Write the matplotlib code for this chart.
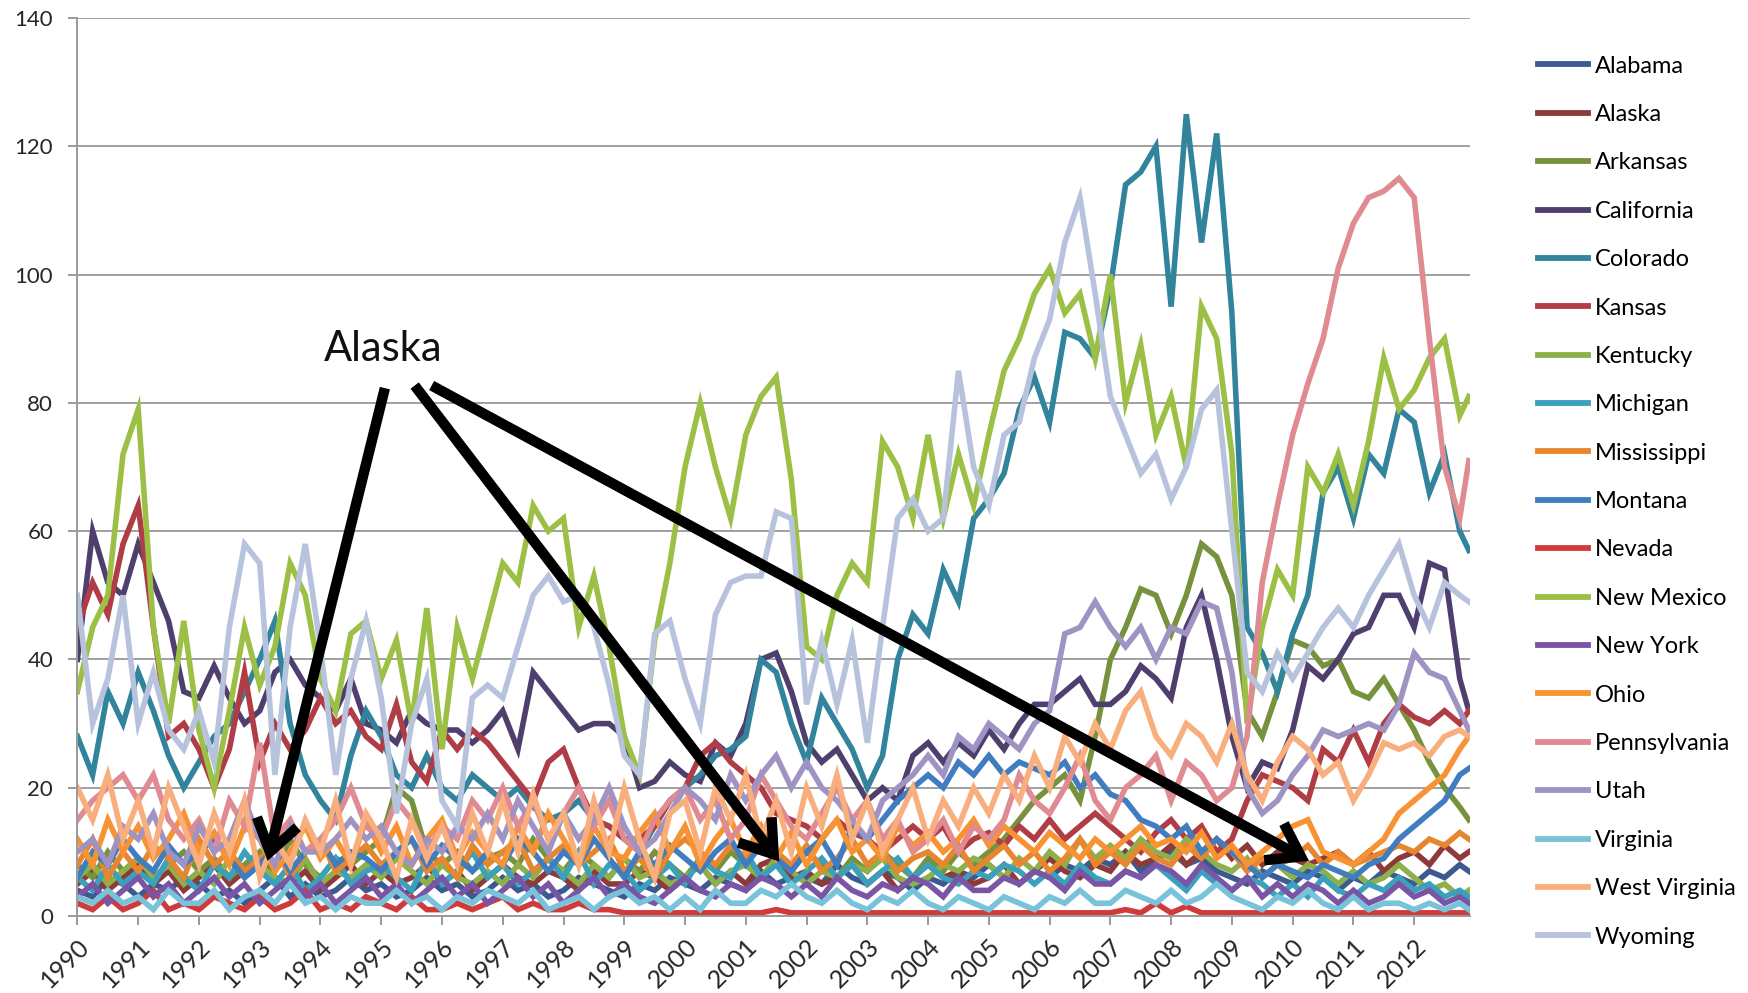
import numpy as np
import matplotlib
matplotlib.use("Agg")
import matplotlib.pyplot as plt

plt.rcParams['font.family'] = ['Lato', 'DejaVu Sans']

# ---------------- data (quarterly readings, 1990.00 ... 2012.75, plus end point) ----------------
dates = np.append(1990 + 0.25 * np.arange(92), 2012.9)

alabama = [4, 3, 6, 5, 3, 5, 4, 6, 5, 3, 4, 2, 4, 6, 3, 5, 3, 4, 6, 4, 5, 3, 4, 6,
           4, 5, 3, 4, 6, 4, 5, 3, 4, 6, 5, 4, 3, 5, 4, 6, 5, 4, 6, 5, 4, 7, 5, 6,
           6, 5, 8, 6, 5, 7, 6, 4, 6, 5, 7, 6, 8, 6, 5, 7, 6, 8, 7, 9, 8, 10, 7, 9,
           10, 8, 9, 7, 6, 5, 7, 6, 5, 7, 6, 4, 6, 5, 7, 6, 5, 7, 6, 8, 7]
alaska = [5, 7, 4, 6, 8, 5, 7, 4, 6, 8, 5, 7, 9, 6, 5, 7, 4, 6, 8, 5, 7, 5, 6, 8,
          5, 7, 4, 6, 8, 6, 5, 7, 6, 4, 7, 5, 5, 7, 6, 4, 6, 8, 5, 7, 5, 8, 9, 6,
          7, 5, 6, 8, 5, 7, 4, 6, 8, 6, 7, 5, 6, 8, 5, 7, 9, 7, 6, 8, 7, 10, 8, 9,
          11, 8, 10, 12, 9, 11, 8, 10, 9, 8, 9, 10, 8, 10, 7, 9, 10, 8, 11, 9, 10]
arkansas = [8, 6, 10, 7, 9, 6, 8, 10, 7, 9, 6, 8, 10, 7, 12, 8, 6, 9, 8, 10, 12, 20, 18, 10,
            8, 10, 7, 9, 10, 8, 12, 9, 7, 10, 8, 6, 9, 7, 10, 8, 6, 9, 7, 10, 8, 6, 9, 7,
            10, 8, 6, 9, 7, 10, 8, 6, 9, 7, 10, 8, 10, 12, 15, 18, 20, 22, 18, 28, 40, 45, 51, 50,
            44, 50, 58, 56, 50, 32, 28, 35, 43, 42, 39, 40, 35, 34, 37, 33, 29, 24, 20, 17, 15]
california = [40, 60, 52, 50, 58, 52, 46, 35, 34, 39, 34, 30, 32, 38, 40, 36, 34, 32, 37, 30,
              29, 27, 32, 30, 29, 29, 27, 29, 32, 26, 38, 35, 32, 29, 30, 30, 28, 20, 21, 24,
              22, 21, 27, 25, 30, 40, 41, 35, 27, 24, 26, 22, 18, 20, 18, 25, 27, 24, 27, 25,
              29, 26, 30, 33, 33, 35, 37, 33, 33, 35, 39, 37, 34, 45, 50, 40, 28, 20, 24, 23,
              29, 39, 37, 40, 44, 45, 50, 50, 45, 55, 54, 37, 32]
colorado = [28, 22, 35, 30, 38, 32, 25, 20, 24, 28, 30, 35, 40, 46, 30, 22, 18, 15, 25, 32,
            28, 22, 20, 25, 20, 18, 22, 20, 18, 20, 17, 15, 16, 18, 15, 14, 12, 10, 14, 18,
            20, 22, 25, 26, 28, 40, 38, 30, 24, 34, 30, 26, 20, 25, 40, 47, 44, 54, 49, 62,
            65, 69, 79, 84, 77, 91, 90, 87, 98, 114, 116, 120, 95, 125, 105, 122, 94, 45, 41, 35,
            44, 50, 66, 70, 62, 72, 69, 79, 77, 66, 72, 60, 57]
kansas = [45, 52, 47, 58, 64, 45, 28, 30, 26, 20, 26, 38, 24, 30, 26, 29, 34, 30, 32, 28,
          26, 33, 24, 21, 29, 26, 29, 27, 24, 21, 18, 24, 26, 20, 15, 14, 12, 12, 14, 18,
          20, 25, 27, 24, 22, 20, 16, 15, 14, 12, 15, 13, 12, 10, 12, 14, 12, 14, 10, 12,
          13, 11, 14, 12, 15, 12, 14, 16, 14, 12, 10, 13, 15, 12, 14, 10, 12, 18, 22, 21,
          20, 18, 26, 24, 29, 24, 30, 33, 31, 30, 32, 30, 32]
kentucky = [6, 8, 5, 7, 9, 6, 8, 5, 7, 5, 9, 6, 8, 6, 5, 9, 5, 7, 6, 8, 6, 9, 7, 5,
            8, 6, 5, 7, 5, 8, 6, 9, 7, 5, 8, 6, 9, 6, 7, 5, 6, 8, 5, 7, 8, 6, 9, 7,
            5, 7, 6, 8, 7, 9, 6, 5, 6, 8, 7, 9, 8, 6, 9, 7, 10, 8, 12, 9, 11, 9, 12, 10,
            9, 12, 10, 8, 7, 9, 6, 8, 6, 8, 7, 5, 7, 5, 6, 8, 6, 4, 5, 3, 4]
michigan = [6, 4, 8, 5, 7, 5, 9, 6, 4, 8, 6, 10, 7, 5, 8, 4, 6, 9, 5, 7, 8, 6, 4, 9,
            5, 7, 10, 6, 8, 5, 7, 9, 6, 10, 5, 8, 7, 4, 6, 8, 5, 9, 7, 6, 10, 6, 8, 5,
            7, 9, 6, 8, 5, 7, 9, 6, 8, 6, 5, 7, 6, 8, 7, 5, 7, 5, 8, 6, 5, 7, 6, 8,
            6, 4, 7, 5, 4, 6, 5, 3, 5, 3, 6, 4, 3, 5, 4, 6, 4, 5, 3, 4, 3]
mississippi = [8, 12, 6, 10, 7, 11, 9, 6, 12, 8, 10, 7, 9, 11, 6, 10, 12, 7, 9, 11, 8, 10, 12, 7,
               9, 6, 11, 8, 10, 12, 7, 9, 11, 8, 10, 12, 7, 9, 6, 10, 12, 10, 8, 11, 9, 12, 10, 8,
               11, 7, 9, 12, 8, 10, 7, 9, 10, 8, 11, 7, 9, 11, 8, 10, 7, 9, 12, 8, 10, 8, 11, 9,
               8, 11, 9, 12, 10, 7, 9, 8, 9, 11, 8, 10, 8, 9, 10, 11, 10, 12, 11, 13, 12]
montana = [6, 10, 8, 12, 9, 7, 11, 8, 10, 12, 9, 6, 8, 11, 7, 10, 12, 8, 10, 9, 7, 10, 12, 8,
           11, 9, 7, 10, 8, 12, 10, 7, 10, 8, 12, 9, 6, 10, 8, 11, 9, 7, 10, 12, 8, 11, 9, 7,
           10, 12, 8, 14, 12, 15, 18, 20, 22, 20, 24, 22, 25, 22, 24, 23, 22, 24, 20, 22, 19, 18, 15, 14,
           12, 14, 10, 12, 10, 8, 6, 8, 7, 6, 8, 7, 6, 8, 9, 12, 14, 16, 18, 22, 23]
nevada = [2, 1, 3, 1, 2, 4, 1, 2, 1, 3, 2, 1, 3, 1, 2, 4, 1, 2, 1, 3, 2, 1, 3, 1,
          1, 2, 1, 2, 3, 1, 2, 1, 1, 2, 1, 1, 0.5, 0.5, 0.5, 0.5, 0.5, 0.5, 0.5, 0.5, 0.5, 0.5, 1, 0.5,
          0.5, 0.5, 0.5, 0.5, 0.5, 0.5, 0.5, 0.5, 0.5, 0.5, 0.5, 0.5, 0.5, 0.5, 0.5, 0.5, 0.5, 0.5, 0.5, 0.5,
          0.5, 1, 0.5, 2, 0.5, 1.5, 0.5, 0.5, 0.5, 0.5, 0.5, 0.5, 0.5, 0.5, 0.5, 0.5, 0.5, 0.5, 0.5, 0.5, 0.5,
          0.5, 0.5, 0.5, 0.5]
new_mexico = [35, 45, 50, 72, 79, 45, 30, 46, 29, 20, 32, 45, 36, 42, 55, 50, 37, 32, 44, 46,
              37, 43, 30, 48, 26, 45, 37, 46, 55, 52, 64, 60, 62, 45, 53, 42, 28, 22, 43, 55,
              70, 80, 70, 62, 75, 81, 84, 68, 42, 40, 50, 55, 52, 74, 70, 62, 75, 62, 72, 64,
              75, 85, 90, 97, 101, 94, 97, 87, 100, 80, 89, 75, 81, 70, 95, 90, 72, 30, 45, 54,
              50, 70, 66, 72, 64, 74, 87, 79, 82, 87, 90, 78, 81]
new_york = [3, 5, 2, 4, 6, 3, 5, 2, 4, 6, 3, 5, 2, 4, 6, 3, 5, 2, 4, 6, 3, 5, 2, 4,
            6, 3, 5, 2, 4, 6, 3, 5, 2, 4, 6, 3, 5, 3, 2, 4, 6, 4, 3, 5, 4, 6, 5, 3,
            5, 3, 6, 4, 3, 5, 4, 6, 5, 3, 6, 4, 4, 6, 5, 7, 6, 4, 7, 5, 5, 7, 6, 8,
            7, 5, 8, 6, 4, 6, 3, 5, 3, 5, 4, 2, 4, 2, 3, 5, 3, 4, 2, 3, 2]
ohio = [12, 8, 15, 10, 14, 9, 12, 16, 10, 13, 8, 14, 12, 7, 10, 14, 9, 12, 8, 15, 10, 14, 8, 12,
        15, 9, 13, 10, 8, 14, 10, 16, 12, 8, 14, 10, 9, 13, 16, 10, 14, 8, 12, 15, 10, 14, 9, 13,
        8, 12, 15, 10, 12, 9, 14, 11, 13, 10, 12, 15, 11, 14, 12, 10, 13, 11, 9, 12, 10, 12, 14, 11,
        12, 10, 13, 9, 11, 8, 10, 12, 14, 15, 10, 9, 8, 10, 12, 16, 18, 20, 22, 26, 28]
pennsylvania = [15, 18, 20, 22, 18, 22, 15, 12, 15, 10, 18, 14, 27, 12, 15, 10, 12, 15, 20, 14,
                12, 18, 15, 10, 14, 12, 18, 15, 20, 14, 18, 12, 16, 20, 14, 18, 12, 10, 15, 18,
                20, 15, 18, 12, 15, 22, 18, 14, 12, 16, 20, 15, 18, 12, 15, 10, 12, 15, 10, 14,
                12, 15, 22, 18, 16, 20, 25, 18, 15, 20, 22, 25, 18, 24, 22, 18, 20, 28, 52, 64,
                75, 83, 90, 101, 108, 112, 113, 115, 112, 90, 70, 62, 71]
utah = [10, 12, 8, 14, 12, 16, 10, 8, 14, 10, 12, 18, 12, 8, 14, 10, 10, 12, 15, 12,
        14, 10, 8, 12, 10, 14, 12, 16, 12, 18, 14, 10, 16, 12, 15, 20, 14, 10, 12, 16,
        20, 18, 15, 22, 18, 22, 25, 20, 24, 20, 18, 15, 12, 18, 20, 22, 25, 22, 28, 26,
        30, 28, 26, 30, 32, 44, 45, 49, 45, 42, 45, 40, 45, 44, 49, 48, 38, 20, 16, 18,
        22, 25, 29, 28, 29, 30, 29, 33, 41, 38, 37, 32, 29]
virginia = [3, 2, 4, 2, 3, 1, 4, 2, 2, 4, 1, 3, 4, 2, 5, 2, 3, 1, 3, 2, 2, 4, 2, 3,
            1, 3, 2, 4, 3, 2, 4, 1, 2, 3, 1, 3, 4, 2, 3, 1, 3, 1, 4, 2, 2, 4, 3, 5,
            3, 2, 4, 2, 1, 3, 2, 4, 2, 1, 3, 2, 1, 3, 2, 1, 3, 2, 4, 2, 2, 4, 3, 2,
            4, 2, 3, 5, 3, 2, 1, 3, 2, 4, 2, 1, 3, 1, 2, 2, 1, 2, 1, 2, 1]
west_virginia = [20, 15, 22, 12, 18, 10, 20, 14, 8, 16, 10, 18, 6, 12, 8, 15, 10, 18, 8, 16,
                 12, 6, 15, 9, 14, 8, 16, 10, 18, 10, 19, 12, 16, 8, 18, 10, 20, 12, 6, 16,
                 18, 10, 20, 15, 22, 12, 18, 10, 20, 14, 22, 12, 18, 10, 15, 20, 12, 18, 14, 20,
                 16, 22, 18, 25, 20, 28, 24, 30, 26, 32, 35, 28, 25, 30, 28, 24, 30, 22, 18, 24,
                 28, 26, 22, 24, 18, 22, 27, 26, 27, 25, 28, 29, 28]
wyoming = [50, 30, 37, 50, 30, 38, 29, 26, 32, 24, 45, 58, 55, 22, 45, 58, 42, 22, 37, 46,
           34, 16, 30, 37, 18, 14, 34, 36, 34, 42, 50, 53, 49, 50, 45, 36, 25, 22, 44, 46,
           37, 30, 47, 52, 53, 53, 63, 62, 33, 43, 33, 43, 27, 45, 62, 65, 60, 62, 85, 70,
           64, 75, 77, 87, 93, 105, 112, 97, 81, 75, 69, 72, 65, 70, 79, 82, 60, 38, 35, 41,
           37, 41, 45, 48, 45, 50, 54, 58, 50, 45, 52, 50, 49]

states = ['Alabama', 'Alaska', 'Arkansas', 'California', 'Colorado', 'Kansas', 'Kentucky',
          'Michigan', 'Mississippi', 'Montana', 'Nevada', 'New Mexico', 'New York', 'Ohio',
          'Pennsylvania', 'Utah', 'Virginia', 'West Virginia', 'Wyoming']
values = [alabama, alaska, arkansas, california, colorado, kansas, kentucky, michigan,
          mississippi, montana, nevada, new_mexico, new_york, ohio, pennsylvania, utah,
          virginia, west_virginia, wyoming]
colors = ['#3B5A8F', '#8E3A3A', '#76923C', '#4F3F6E', '#31849B', '#B03C46', '#8DB04A',
          '#3AA0BC', '#E8862F', '#3F7CC0', '#D03A3A', '#9BC045', '#7A55A5', '#F79332',
          '#E08A92', '#9F93C3', '#78C3D9', '#F9AE7E', '#B7C3DC']

year_ticks = list(range(1990, 2013))
y_ticks = list(range(0, 141, 20))

# ---------------- figure ----------------
fig = plt.figure(figsize=(17.48, 9.93), dpi=100)
ax = fig.add_axes([0.0443, 0.0775, 0.7967, 0.9044])

for name, vals, col in zip(states, values, colors):
    ax.plot(dates, vals, color=col, lw=4.0, label=name, solid_joinstyle='miter')

ax.set_xlim(1990, 2012.92)
ax.set_ylim(0, 140)
ax.set_yticks(y_ticks)
ax.set_xticks(year_ticks)
ax.set_xticklabels([str(y) for y in year_ticks], rotation=45, ha='right',
                   rotation_mode='anchor')
ax.grid(axis='y', color='#A0A0A0', lw=1.4)
ax.set_axisbelow(True)
for s in ['top', 'right']:
    ax.spines[s].set_visible(False)
for s in ['left', 'bottom']:
    ax.spines[s].set_color('#9A9A9A')
    ax.spines[s].set_linewidth(1.4)
ax.tick_params(axis='both', colors='#9A9A9A', labelcolor='#262626', labelsize=16,
               length=6.5, width=1.4, direction='out')
ax.tick_params(axis='x', labelsize=18, pad=7)
ax.tick_params(axis='y', pad=11)

# annotation
ax.text(1995.03, 88.4, 'Alaska', fontsize=30, ha='center', va='center', color='#111111')
starts = [(1995.06, 82.3), (1995.55, 82.7), (1995.83, 82.7)]
tips = [(1993.13, 8.6), (2001.55, 8.5), (2010.27, 8.6)]
for st, tp in zip(starts, tips):
    ax.annotate('', xy=tp, xytext=st,
                arrowprops=dict(arrowstyle='->,head_length=2.2,head_width=1.5',
                                color='black', lw=7.5, shrinkA=0, shrinkB=0,
                                joinstyle='miter', capstyle='butt'))

leg = fig.legend(loc='upper left', bbox_to_anchor=(0.880, 0.944), frameon=False,
                 fontsize=17, handlelength=2.1, handletextpad=0.3, labelspacing=1.16,
                 borderpad=0, borderaxespad=0)
for line in leg.get_lines():
    line.set_linewidth(4.2)

fig.savefig('out.png', dpi=100)
